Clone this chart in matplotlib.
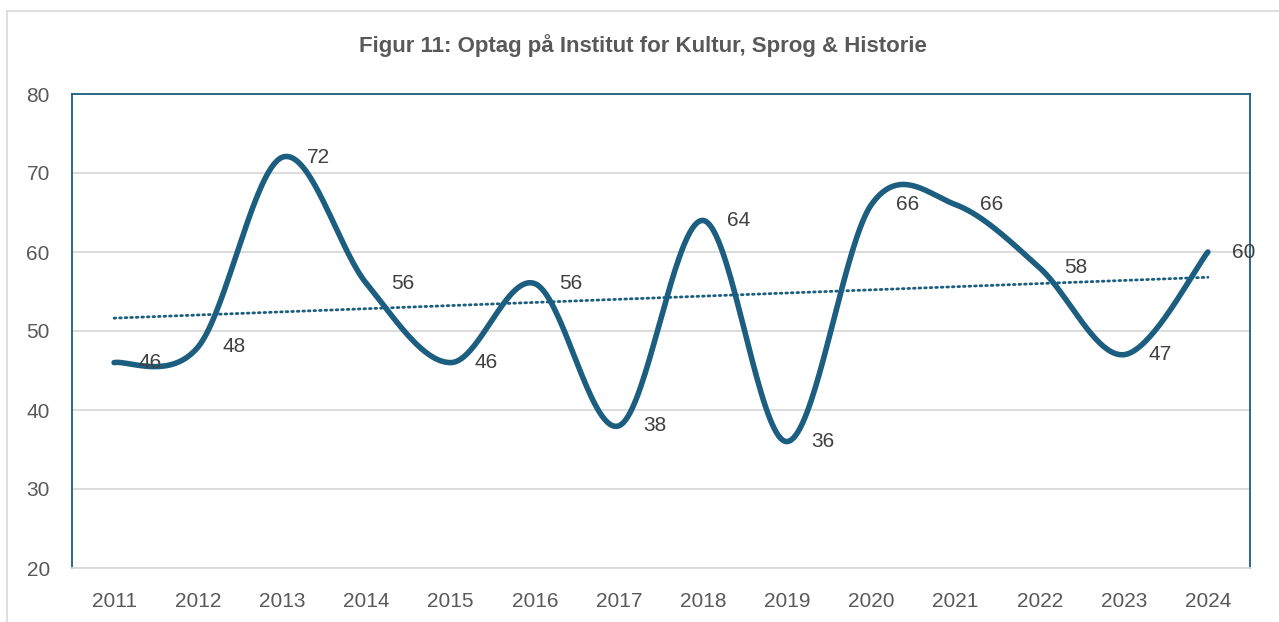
import numpy as np
import matplotlib
matplotlib.use("Agg")
import matplotlib.pyplot as plt
from matplotlib.lines import Line2D

years = [2011, 2012, 2013, 2014, 2015, 2016, 2017, 2018, 2019, 2020, 2021, 2022, 2023, 2024]
values = [46, 48, 72, 56, 46, 56, 38, 64, 36, 66, 66, 58, 47, 60]
title = "Figur 11: Optag på Institut for Kultur, Sprog & Historie"
yticks = [20, 30, 40, 50, 60, 70, 80]

LINE = "#1B5E80"
GRID = "#D9D9D9"
TXT = "#595959"

plt.rcParams['font.family'] = ['Liberation Sans', 'DejaVu Sans']

W, H = 1279, 622
fig = plt.figure(figsize=(W / 100, H / 100), dpi=100)
L, R, T, B = 72, 1250, 94, 568
ax = fig.add_axes([L / W, 1 - B / H, (R - L) / W, (B - T) / H])

x = np.arange(len(years), dtype=float)
y = np.array(values, dtype=float)

# Catmull-Rom smoothing (Excel-like smoothed line)
def smooth(xp, yp, n=40):
    px = np.concatenate([[xp[0]], xp, [xp[-1]]])
    py = np.concatenate([[yp[0]], yp, [yp[-1]]])
    xs, ys = [], []
    for i in range(1, len(px) - 2):
        p0x, p1x, p2x, p3x = px[i - 1], px[i], px[i + 1], px[i + 2]
        p0y, p1y, p2y, p3y = py[i - 1], py[i], py[i + 1], py[i + 2]
        c1x = p1x + (p2x - p0x) / 6
        c1y = p1y + (p2y - p0y) / 6
        c2x = p2x - (p3x - p1x) / 6
        c2y = p2y - (p3y - p1y) / 6
        t = np.linspace(0, 1, n)
        bx = (1 - t) ** 3 * p1x + 3 * (1 - t) ** 2 * t * c1x + 3 * (1 - t) * t ** 2 * c2x + t ** 3 * p2x
        by = (1 - t) ** 3 * p1y + 3 * (1 - t) ** 2 * t * c1y + 3 * (1 - t) * t ** 2 * c2y + t ** 3 * p2y
        xs.append(bx)
        ys.append(by)
    return np.concatenate(xs), np.concatenate(ys)

sx, sy = smooth(x, y)
ax.plot(sx, sy, color=LINE, lw=4.0, solid_capstyle='round', zorder=3)

# linear trendline
k, b0 = np.polyfit(x, y, 1)
ax.plot(x, k * x + b0, color=LINE, lw=2.0, linestyle=(0, (0.6, 1.4)), dash_capstyle='round', zorder=2)

# data labels
for xi, yi in zip(x, y):
    ax.annotate(f"{int(yi)}", (xi, yi), xytext=(17.5, 0), textcoords='offset points',
                ha='left', va='center', fontsize=15, color="#404040", zorder=4)

ax.set_xlim(-0.5, len(years) - 0.5)
ax.set_ylim(20, 80)
ax.set_yticks(yticks)
ax.set_xticks(x)
ax.set_xticklabels([str(v) for v in years])
ax.grid(axis='y', color=GRID, lw=1.3)
ax.set_axisbelow(True)
for s in ['left', 'top', 'right']:
    ax.spines[s].set_color(LINE)
    ax.spines[s].set_linewidth(1.3)
ax.spines['bottom'].set_color(GRID)
ax.spines['bottom'].set_linewidth(1.3)
ax.tick_params(axis='both', length=0, labelsize=15, colors=TXT)
ax.tick_params(axis='y', pad=16)
ax.tick_params(axis='x', pad=17)

fig.text(643 / W, 1 - 46 / H, title, ha='center', va='center',
         fontsize=16, fontweight='bold', color=TXT)

# outer chart border
fig.add_artist(Line2D([7 / W, 7 / W], [0, 1 - 11 / H], color=GRID, lw=1.2, transform=fig.transFigure))
fig.add_artist(Line2D([7 / W, 1], [1 - 11 / H, 1 - 11 / H], color=GRID, lw=1.2, transform=fig.transFigure))

fig.savefig("out.png", dpi=100)
